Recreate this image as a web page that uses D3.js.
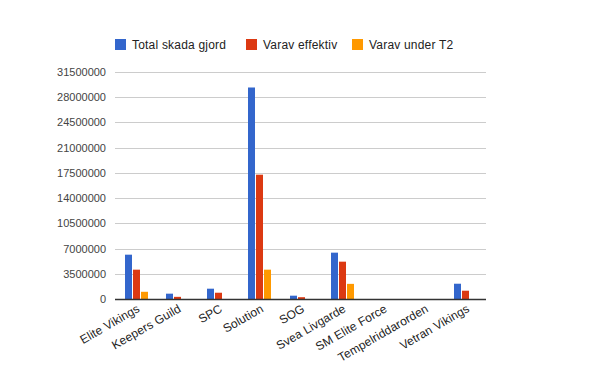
<!DOCTYPE html>
<html><head><meta charset="utf-8">
<script src="https://cdn.jsdelivr.net/npm/d3@7"></script>
<style>body{margin:0;background:#fff}svg{display:block}text{font-family:Arial,"Liberation Sans",sans-serif}</style>
</head><body><svg id="c" width="600" height="371"></svg>
<script>
const categories = ["Elite Vikings","Keepers Guild","SPC","Solution","SOG","Svea Livgarde","SM Elite Force","Tempelriddarorden","Vetran Vikings"];
const seriesNames = ["Total skada gjord","Varav effektiv","Varav under T2"];
const totalSkada = [6150000, 740000, 1430000, 29350000, 460000, 6430000, 0, 0, 2120000];
const varavEffektiv = [4070000, 300000, 870000, 17250000, 250000, 5180000, 0, 0, 1150000];
const varavT2 = [1000000, 0, 0, 4070000, 0, 2100000, 0, 0, 0];
const yTicks = [0,3500000,7000000,10500000,14000000,17500000,21000000,24500000,28000000,31500000];
const colors = ["#3366cc","#dc3912","#ff9900"];

(function(){
const series = [totalSkada, varavEffektiv, varavT2];
const svg = d3.select("#c");
const pl = 115, pr = 486, pt = 72, pb = 299;
const x = d3.scaleBand().domain(categories).range([pl, pr]);
const y = d3.scaleLinear().domain([0, 31500000]).range([pb, pt]);

svg.append("g").selectAll("line").data(yTicks.slice(1)).join("line")
  .attr("x1", pl).attr("x2", pr)
  .attr("y1", d => Math.round(y(d)) + 0.5).attr("y2", d => Math.round(y(d)) + 0.5)
  .attr("stroke", "#cccccc").attr("stroke-width", 1);

svg.append("g").selectAll("text").data(yTicks).join("text")
  .attr("x", pl - 9).attr("y", d => y(d) + 4)
  .attr("text-anchor", "end").attr("font-size", 11).attr("fill", "#444")
  .text(d => d);

const barW = 7, gap = 1;
const groupW = 3 * barW + 2 * gap;
series.forEach((vals, si) => {
  svg.append("g").selectAll("rect").data(vals).join("rect")
    .attr("x", (d, i) => Math.round(x(categories[i]) + x.bandwidth() / 2 - groupW / 2 + si * (barW + gap) + 0.5))
    .attr("y", d => y(d))
    .attr("width", barW)
    .attr("height", d => pb - y(d))
    .attr("fill", colors[si]);
});

svg.append("line").attr("x1", pl).attr("x2", pr).attr("y1", pb + 0.5).attr("y2", pb + 0.5)
  .attr("stroke", "#333333").attr("stroke-width", 1.5);

svg.append("g").selectAll("text").data(categories).join("text")
  .attr("transform", d => `translate(${x(d) + x.bandwidth() / 2 + 5},${pb + 12}) rotate(-30)`)
  .attr("text-anchor", "end").attr("font-size", 12).attr("fill", "#222")
  .attr("letter-spacing", "0.1px")
  .text(d => d);

const legX = [115, 246, 352];
seriesNames.forEach((n, i) => {
  svg.append("rect").attr("x", legX[i]).attr("y", 39).attr("width", 11).attr("height", 11).attr("fill", colors[i]);
  svg.append("text").attr("x", legX[i] + 17).attr("y", 49).attr("font-size", 12).attr("fill", "#222")
    .attr("letter-spacing", "0.2px").text(n);
});
})();
</script></body></html>
